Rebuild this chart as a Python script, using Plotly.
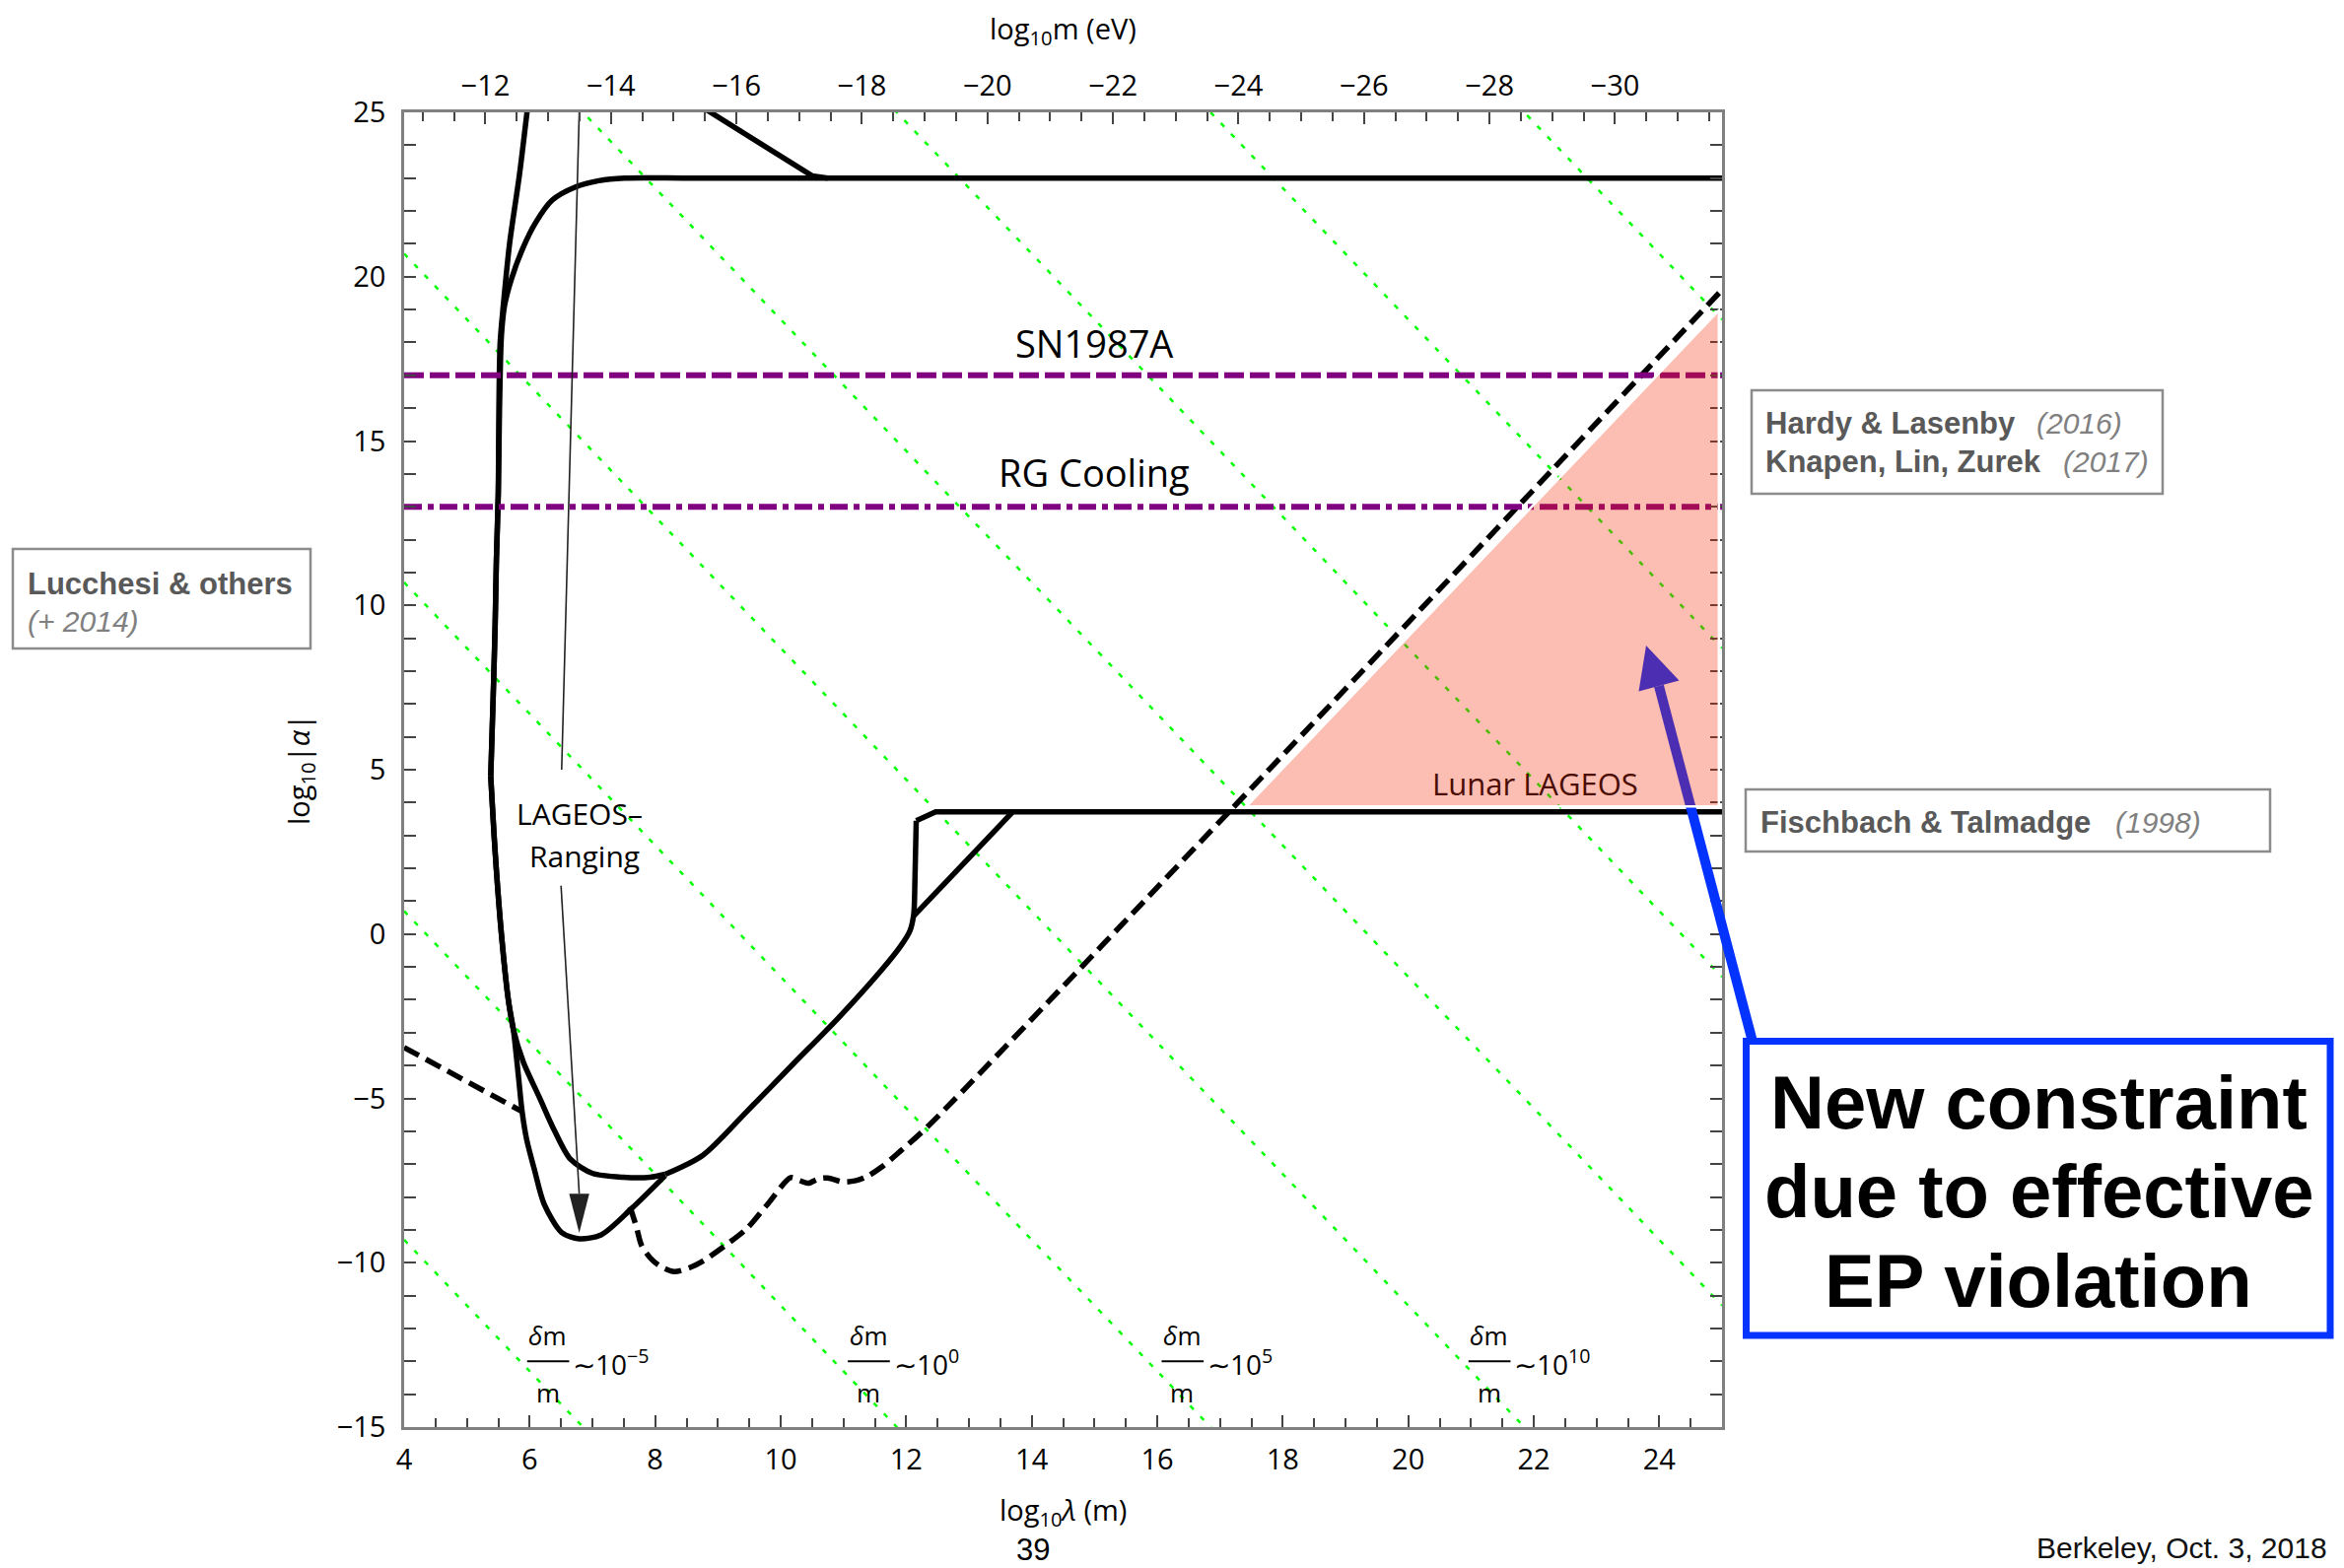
import plotly.graph_objects as go

# ---------------- page geometry ----------------
W, H = 2378, 1591
ML, MR, MT, MB = 410, 631, 114, 143
PW = W - ML - MR
PH = H - MT - MB

def pxx(x):
    return (x - ML) / PW

def pxy(y):
    return (H - MB - y) / PH

# ---------------- axis data ----------------
x_range = [4, 25]
y_range = [-15, 25]
bottom_ticks = [4, 6, 8, 10, 12, 14, 16, 18, 20, 22, 24]
bottom_minor = [v / 2 for v in range(8, 51) if (v / 2) not in bottom_ticks]
left_ticks = [-15, -10, -5, 0, 5, 10, 15, 20, 25]
left_minor = [v for v in range(-15, 26) if v not in left_ticks]
top_mass_ticks = [-12, -14, -16, -18, -20, -22, -24, -26, -28, -30]
top_mass_minor = [-(v / 2) for v in range(22, 64) if (v / 2) % 2 != 0]
log10_hbar_c = -6.705  # log10(hbar*c / (eV m)) : log10(lambda) = log10_hbar_c - log10(m)

# ---------------- curves (log10 lambda, log10 |alpha|) ----------------
steep_upper_x = [5.97, 5.84, 5.68, 5.58, 5.53, 5.51, 5.50, 5.47, 5.45, 5.42, 5.38]
steep_upper_y = [25.2, 23.14, 21.0, 19.12, 18.0, 16.0, 13.4, 11.4, 9.4, 7.3, 4.8]

outer_lower_x = [5.38, 5.45, 5.55, 5.66, 5.74, 5.82, 5.88, 5.95, 6.08, 6.23, 6.51, 6.79, 7.14, 7.63, 8.16]
outer_lower_y = [4.8, 2.5, 0.0, -2.0, -2.9, -4.3, -5.4, -6.23, -7.2, -8.21, -9.08, -9.27, -9.15, -8.34, -7.35]

round_upper_x = [25.0, 12.0, 10.0, 8.5, 7.51, 7.10, 6.73, 6.36, 6.10, 5.89, 5.71, 5.60, 5.55, 5.52, 5.50, 5.47, 5.45, 5.42, 5.38]
round_upper_y = [23.0, 23.0, 23.0, 23.0, 23.0, 22.92, 22.73, 22.33, 21.66, 20.86, 19.93, 19.12, 18.19, 16.0, 13.4, 11.4, 9.4, 7.3, 4.8]

inner_lower_x = [5.38, 5.45, 5.55, 5.66, 5.74, 5.90, 6.16, 6.40, 6.65, 7.00, 7.49, 7.92, 8.16]
inner_lower_y = [4.8, 2.5, 0.0, -2.0, -2.9, -3.9, -4.99, -6.0, -6.85, -7.28, -7.40, -7.40, -7.31]

diag_x = [8.16, 8.76, 9.46, 10.20, 10.92, 11.60, 11.91, 12.06, 12.12, 12.14, 12.16]
diag_y = [-7.31, -6.73, -5.40, -3.95, -2.55, -1.11, -0.37, 0.10, 0.60, 1.70, 3.45]

step_x = [12.16, 12.47, 25.0]
step_y = [3.45, 3.72, 3.72]

branch_x = [12.12, 13.70]
branch_y = [0.55, 3.72]

slant_x = [8.80, 10.50, 10.75]
slant_y = [25.1, 23.07, 23.0]

dashed_left_x = [4.0, 5.88]
dashed_left_y = [-3.45, -5.40]

dashed_main_x = [7.60, 7.70, 7.78, 7.92, 8.06, 8.30, 8.55, 8.76, 9.10, 9.46, 9.80, 10.16, 10.30, 10.44,
                 10.60, 10.75, 10.99, 11.20, 11.39, 11.60, 11.91, 12.33, 17.14, 25.0]
dashed_main_y = [-8.30, -8.90, -9.46, -9.85, -10.08, -10.27, -10.15, -9.95, -9.50, -8.96, -8.20, -7.41, -7.50, -7.58,
                 -7.45, -7.42, -7.54, -7.50, -7.36, -7.10, -6.60, -5.88, 3.71, 19.6]

# green dotted lines delta m / m ~ 10^k (values read at the left and right frame edges)
green_exponents = [-5, 0, 5, 10, 15, 20, 25, 30]
green_y_at_left = [-9.3, 0.7, 10.7, 20.7, 30.7, 40.7, 50.7, 60.7]
green_y_at_right = [-51.3, -41.3, -31.3, -21.3, -11.3, -1.3, 8.7, 18.7]

# astrophysical bounds
sn1987a_level = 17.0
rg_cooling_level = 13.0

# LAGEOS ranging pointer
lageos_upper_x = [6.79, 6.51]
lageos_upper_y = [25.0, 5.0]
lageos_lower_x = [6.50, 6.79]
lageos_lower_y = [1.47, -7.90]
lageos_tip = (6.79, -9.09)

# new constraint region (Lunar LAGEOS)
lunar_x = [17.42, 24.95, 24.95]
lunar_y = [3.88, 18.98, 3.88]

# delta m / m labels
frac_label_x = [6.29, 11.40, 16.40, 21.29]
frac_label_exp = ["\u22125", "0", "5", "10"]

fig = go.Figure()


def add_line(x, y, color="black", width=5, dash="solid", shape="linear", smoothing=1.0):
    fig.add_trace(go.Scatter(
        x=x, y=y, mode="lines",
        line=dict(color=color, width=width, dash=dash, shape=shape, smoothing=smoothing),
        hoverinfo="skip", showlegend=False))


BW = 5.5  # black curve width

# green dotted lines
for yl, yr in zip(green_y_at_left, green_y_at_right):
    add_line([x_range[0], x_range[1]], [yl, yr], color="#00ff00", width=2.5, dash="5px,10px")

# black curves
add_line(dashed_left_x, dashed_left_y, width=BW, dash="17px,8px")
add_line(dashed_main_x, dashed_main_y, width=BW, dash="17px,8px", shape="spline", smoothing=0.8)
add_line(steep_upper_x, steep_upper_y, width=BW, shape="spline", smoothing=0.8)
add_line(outer_lower_x, outer_lower_y, width=BW, shape="spline", smoothing=0.8)
add_line(round_upper_x, round_upper_y, width=BW, shape="spline", smoothing=0.8)
add_line(inner_lower_x, inner_lower_y, width=BW, shape="spline", smoothing=0.8)
add_line(diag_x, diag_y, width=BW, shape="spline", smoothing=0.8)
add_line(step_x, step_y, width=BW)
add_line(branch_x, branch_y, width=BW)
add_line(slant_x, slant_y, width=BW)

# purple bounds
add_line([x_range[0], x_range[1]], [sn1987a_level, sn1987a_level], color="#800080", width=6, dash="20px,6px")
add_line([x_range[0], x_range[1]], [rg_cooling_level, rg_cooling_level], color="#800080", width=6,
         dash="18px,6px,6px,6px")

# thin LAGEOS pointer
add_line(lageos_upper_x, lageos_upper_y, color="#222", width=1.6)
add_line(lageos_lower_x, lageos_lower_y, color="#222", width=1.6)

# dummy trace for the top axis
fig.add_trace(go.Scatter(x=x_range, y=[-100, -100], xaxis="x2", mode="markers",
                         marker=dict(opacity=0), hoverinfo="skip", showlegend=False))

tickfont = dict(family="Open Sans", size=29, color="black")
axis_common = dict(showgrid=False, zeroline=False, showline=True, linecolor="#808080", linewidth=2.5,
                   ticks="inside", ticklen=12, tickwidth=1.5, tickcolor="#444", tickfont=tickfont)

top_pos = [log10_hbar_c - m for m in top_mass_ticks]
top_minor_pos = [log10_hbar_c - m for m in top_mass_minor if x_range[0] <= log10_hbar_c - m <= x_range[1]]

fig.update_layout(
    width=W, height=H,
    margin=dict(l=ML, r=MR, t=MT, b=MB),
    paper_bgcolor="white", plot_bgcolor="white",
    xaxis=dict(range=x_range, tickmode="array", tickvals=bottom_ticks, ticklabelstandoff=5,
               minor=dict(tickmode="array", tickvals=bottom_minor, ticks="inside", ticklen=9,
                          tickwidth=1.5, tickcolor="#444"),
               mirror=False, **axis_common),
    xaxis2=dict(range=x_range, overlaying="x", side="top", anchor="y", tickmode="array",
                tickvals=top_pos, ticktext=["\u2212%d" % (-m) for m in top_mass_ticks], ticklabelstandoff=3,
                minor=dict(tickmode="array", tickvals=top_minor_pos, ticks="inside", ticklen=9,
                           tickwidth=1.5, tickcolor="#444"),
                **axis_common),
    yaxis=dict(range=y_range, tickmode="array", tickvals=left_ticks, ticklabelstandoff=10,
               minor=dict(tickmode="array", tickvals=left_minor, ticks="inside", ticklen=9,
                          tickwidth=1.5, tickcolor="#444"),
               mirror="allticks", **axis_common),
)

shapes = []
annotations = []

# blue arrow (drawn before the pink region so the region tints it)
blue = "#0433ff"
arrow_tail = (1778, 1057)
arrow_base = (1683, 696)
arrow_head = [(1670, 655), (1662.5, 701.5), (1703.5, 690.5)]
shapes.append(dict(type="line", xref="paper", yref="paper",
                   x0=pxx(arrow_tail[0]), y0=pxy(arrow_tail[1]), x1=pxx(arrow_base[0]), y1=pxy(arrow_base[1]),
                   line=dict(color=blue, width=10), layer="above"))
shapes.append(dict(type="path", xref="paper", yref="paper",
                   path="M %f,%f L %f,%f L %f,%f Z" % (pxx(arrow_head[0][0]), pxy(arrow_head[0][1]),
                                                       pxx(arrow_head[1][0]), pxy(arrow_head[1][1]),
                                                       pxx(arrow_head[2][0]), pxy(arrow_head[2][1])),
                   fillcolor=blue, line=dict(width=0), layer="above"))

# pink Lunar LAGEOS region
lunar_path = "M " + " L ".join("%f,%f" % (a, b) for a, b in zip(lunar_x, lunar_y)) + " Z"
shapes.append(dict(type="path", xref="x", yref="y", path=lunar_path,
                   fillcolor="rgba(245,38,0,0.3)", line=dict(color="white", width=2.5), layer="above"))

# LAGEOS arrow head
tx, ty = lageos_tip
shapes.append(dict(type="path", xref="x", yref="y",
                   path="M %f,%f L %f,%f L %f,%f Z" % (tx, ty, tx - 0.16, lageos_lower_y[-1], tx + 0.16,
                                                       lageos_lower_y[-1]),
                   fillcolor="#222", line=dict(width=0), layer="above"))

# delta m / m fraction labels
lab_font = dict(family="Open Sans", size=26, color="black")
sup_font = dict(family="Open Sans", size=28, color="black")
for xc, e in zip(frac_label_x, frac_label_exp):
    shapes.append(dict(type="line", xref="x", yref="y", x0=xc - 0.33, x1=xc + 0.34, y0=-13.0, y1=-13.0,
                       line=dict(color="black", width=2), layer="above"))
    annotations.append(dict(x=xc, y=-12.22, xref="x", yref="y", text="<i>\u03b4</i>m", showarrow=False,
                            font=lab_font, xanchor="center", yanchor="middle"))
    annotations.append(dict(x=xc, y=-13.95, xref="x", yref="y", text="m", showarrow=False,
                            font=lab_font, xanchor="center", yanchor="middle"))
    annotations.append(dict(x=xc + 0.37, y=-13.05, xref="x", yref="y",
                            text="\u223c10<sup>%s</sup>" % e, showarrow=False,
                            font=sup_font, xanchor="left", yanchor="middle"))

# in-plot labels
plot_font = dict(family="Open Sans", size=38, color="black")
annotations.append(dict(x=15.0, y=17.98, xref="x", yref="y", text="SN1987A", showarrow=False, font=plot_font,
                        xanchor="center", yanchor="middle"))
annotations.append(dict(x=15.0, y=14.06, xref="x", yref="y", text="RG Cooling", showarrow=False, font=plot_font,
                        xanchor="center", yanchor="middle"))
annotations.append(dict(x=6.79, y=3.67, xref="x", yref="y", text="LAGEOS\u2013", showarrow=False,
                        font=dict(family="Open Sans", size=30, color="black"), xanchor="center", yanchor="middle"))
annotations.append(dict(x=6.87, y=2.37, xref="x", yref="y", text="Ranging", showarrow=False,
                        font=dict(family="Open Sans", size=30, color="black"), xanchor="center", yanchor="middle"))
annotations.append(dict(x=22.03, y=4.59, xref="x", yref="y", text="Lunar LAGEOS", showarrow=False,
                        font=dict(family="Open Sans", size=31, color="rgb(74,11,0)"), xanchor="center",
                        yanchor="middle"))

# axis titles
title_font = dict(family="Open Sans", size=29, color="black")
annotations.append(dict(x=pxx(1078), y=pxy(1533), xref="paper", yref="paper", xanchor="center", yanchor="middle",
                        text="log<sub>10</sub><i>\u03bb</i> (m)", showarrow=False, font=title_font))
annotations.append(dict(x=pxx(1078), y=pxy(30), xref="paper", yref="paper", xanchor="center", yanchor="middle",
                        text="log<sub>10</sub>m (eV)", showarrow=False, font=title_font))
annotations.append(dict(x=pxx(304), y=pxy(781), xref="paper", yref="paper", xanchor="center", yanchor="middle",
                        textangle=-90, text="log<sub>10</sub>|<i>\u03b1</i>|", showarrow=False, font=title_font))

# side reference boxes
gray_line = dict(color="#8c8c8c", width=2.5)
bold_font = dict(family="Liberation Sans", size=31, color="#595959")
ital_font = dict(family="Liberation Sans", size=30, color="#808080")


def rect(x0, y0, x1, y1, line):
    shapes.append(dict(type="rect", xref="paper", yref="paper", x0=pxx(x0), x1=pxx(x1), y0=pxy(y1), y1=pxy(y0),
                       line=line, fillcolor="rgba(0,0,0,0)", layer="above"))


def text_at(x, y, text, font, xanchor="left"):
    annotations.append(dict(x=pxx(x), y=pxy(y), xref="paper", yref="paper", text=text, showarrow=False,
                            font=font, xanchor=xanchor, yanchor="middle"))


rect(13, 557, 315, 658, gray_line)
text_at(26, 592, "<b>Lucchesi &amp; others</b>", bold_font)
text_at(26, 630, "<i>(+ 2014)</i>", ital_font)

rect(1777, 396, 2194, 501, gray_line)
text_at(1789, 430, "<b>Hardy &amp; Lasenby</b>", bold_font)
text_at(2064, 430, "<i>(2016)</i>", ital_font)
text_at(1789, 468, "<b>Knapen, Lin, Zurek</b>", bold_font)
text_at(2091, 468, "<i>(2017)</i>", ital_font)

rect(1771, 801, 2303, 864, gray_line)
text_at(1784, 834, "<b>Fischbach &amp; Talmadge</b>", bold_font)
text_at(2144, 834, "<i>(1998)</i>", ital_font)

# new constraint box
rect(1771.5, 1056.5, 2364, 1355, dict(color=blue, width=7))
big_font = dict(family="Liberation Sans", size=76, color="black")
text_at(2068, 1118, "<b>New constraint</b>", big_font, "center")
text_at(2068, 1208, "<b>due to effective</b>", big_font, "center")
text_at(2068, 1299, "<b>EP violation</b>", big_font, "center")

# footer
text_at(1048, 1572, "39", dict(family="Liberation Sans", size=31, color="black"), "center")
text_at(2064, 1570, "Berkeley, Oct. 3, 2018", dict(family="Liberation Sans", size=30, color="#111"))

fig.update_layout(shapes=shapes, annotations=annotations)
fig.write_html("out.html")
